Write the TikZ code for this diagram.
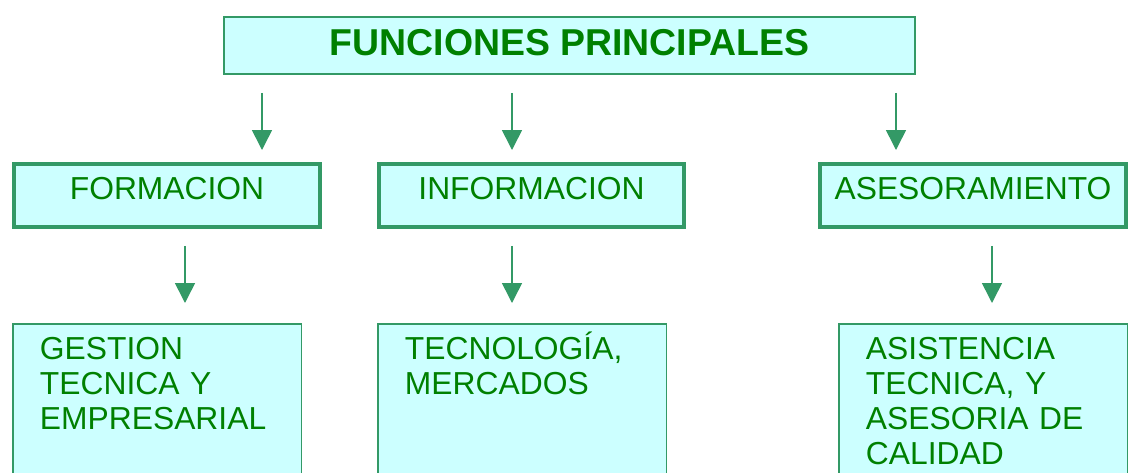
\documentclass[tikz,border=0pt]{standalone}
\usepackage{fontspec}
\setmainfont{Liberation Sans}
\usetikzlibrary{arrows.meta}
\definecolor{edge}{HTML}{339966}
\definecolor{txt}{HTML}{008000}
\definecolor{pale}{HTML}{CCFFFF}

\begin{document}
\begin{tikzpicture}[
      x=0.02cm, y=-0.02cm,
      box/.style={draw=edge, fill=pale, text=txt, outer sep=0pt, inner ysep=0pt},
      head/.style={box, line width=1.13pt, minimum width=13.82cm, text height=0.78cm, text depth=0.36cm, font=\fontsize{21.3pt}{24pt}\selectfont\bfseries},
      func/.style={box, line width=2.27pt, minimum width=6.12cm, text height=0.72cm, text depth=0.54cm, font=\fontsize{18.1pt}{19.8pt}\selectfont},
      item/.style={box, line width=0.85pt, anchor=north west, align=left, text width=4.69cm, inner xsep=0.54cm, text height=0.72cm, text depth=2.6cm, font=\fontsize{18.1pt}{19.8pt}\selectfont},
      arr/.style={draw=edge, line width=0.9pt, -{Triangle[width=0.4cm, length=0.4cm]}}
    ]
    \useasboundingbox (0,0) rectangle (1134,473);

    \node[head] (top) at (569.5,45.5) {FUNCIONES PRINCIPALES};

    \node[func] (form) at (167,195.5) {FORMACION};
    \node[func] (info) at (531.5,195.5) {INFORMACION};
    \node[func] (ases) at (973,195.5) {ASESORAMIENTO};

    \node[item] (gest) at (13,324) {GESTION\\TECNICA Y\\EMPRESARIAL};
    \node[item] (tecn) at (378,324) {TECNOLOGÍA,\\MERCADOS};
    \node[item] (asis) at (839,324) {ASISTENCIA\\TECNICA, Y\\ASESORIA DE\\CALIDAD};

    \foreach \x/\n in {262/form, 512/info, 896/ases} {
      \draw[arr, shorten <=0.38cm, shorten >=0.28cm] (top.south -| \x,0) -- (\n.north -| \x,0);
    }
    \foreach \x/\a/\b in {185/form/gest, 512/info/tecn, 992/ases/asis} {
      \draw[arr, shorten <=0.38cm, shorten >=0.42cm] (\a.south -| \x,0) -- (\b.north -| \x,0);
    }
  \end{tikzpicture}
\end{document}
